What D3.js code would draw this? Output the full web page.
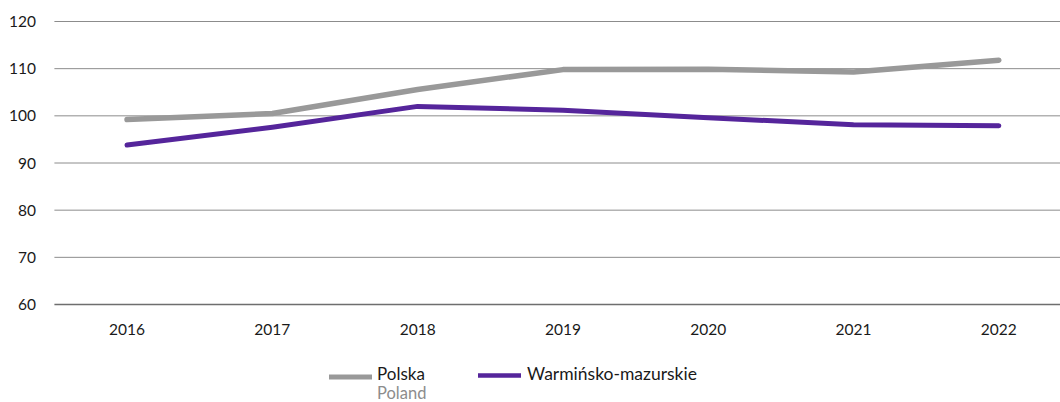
<!DOCTYPE html>
<html>
<head>
<meta charset="utf-8">
<script src="https://cdn.jsdelivr.net/npm/d3@7"></script>
<style>
  html, body { margin: 0; padding: 0; background: #fff; }
  svg { display: block; font-family: Lato, "Open Sans", sans-serif; }
</style>
</head>
<body>
<svg id="chart" width="1060" height="402"></svg>
<script>
const years = ["2016", "2017", "2018", "2019", "2020", "2021", "2022"];
const polska = [99.2, 100.5, 105.6, 109.8, 109.9, 109.3, 111.8];
const warminsko = [93.8, 97.6, 102.0, 101.2, 99.6, 98.1, 97.9];
const yTicks = [60, 70, 80, 90, 100, 110, 120];

const svg = d3.select("#chart");
const left = 54.4, bandW = 145.3;
const x = d3.scaleBand().domain(years).range([left, left + bandW * years.length]);
const y = d3.scaleLinear().domain([60, 120]).range([304.5, 21.5]);

// horizontal gridlines
svg.append("g").selectAll("line").data(yTicks.filter(d => d !== 60)).join("line")
  .attr("x1", left).attr("x2", 1060)
  .attr("y1", d => y(d)).attr("y2", d => y(d))
  .attr("stroke", "#8c8c8c").attr("stroke-width", 1);

// baseline
svg.append("line")
  .attr("x1", left).attr("x2", 1060)
  .attr("y1", y(60)).attr("y2", y(60))
  .attr("stroke", "#6e6e6e").attr("stroke-width", 1.6);

// y tick labels
svg.append("g").selectAll("text").data(yTicks).join("text")
  .attr("x", 36).attr("y", d => y(d) + 5.5)
  .attr("text-anchor", "end")
  .attr("font-size", 15.5).attr("fill", "#1a1a1a")
  .text(d => d);

// x tick labels
svg.append("g").selectAll("text").data(years).join("text")
  .attr("x", d => x(d) + x.bandwidth() / 2).attr("y", 335)
  .attr("text-anchor", "middle")
  .attr("font-size", 15.5).attr("fill", "#1a1a1a")
  .text(d => d);

const line = d3.line()
  .x((d, i) => x(years[i]) + x.bandwidth() / 2)
  .y(d => y(d));

svg.append("path").datum(polska)
  .attr("d", line).attr("fill", "none")
  .attr("stroke", "#999999").attr("stroke-width", 5.5)
  .attr("stroke-linecap", "round").attr("stroke-linejoin", "round");

svg.append("path").datum(warminsko)
  .attr("d", line).attr("fill", "none")
  .attr("stroke", "#55259b").attr("stroke-width", 5)
  .attr("stroke-linecap", "round").attr("stroke-linejoin", "round");

// legend
const lg = svg.append("g");
lg.append("line").attr("x1", 329).attr("x2", 372).attr("y1", 377).attr("y2", 377)
  .attr("stroke", "#999999").attr("stroke-width", 5);
lg.append("text").attr("x", 377).attr("y", 379.5).attr("font-size", 17).attr("fill", "#1a1a1a").text("Polska");
lg.append("text").attr("x", 377).attr("y", 398.5).attr("font-size", 16.5).attr("fill", "#8c8c8c").text("Poland");
lg.append("line").attr("x1", 478).attr("x2", 521).attr("y1", 375.5).attr("y2", 375.5)
  .attr("stroke", "#55259b").attr("stroke-width", 4.5);
lg.append("text").attr("x", 527).attr("y", 380).attr("font-size", 17.5).attr("fill", "#1a1a1a").text("Warmińsko-mazurskie");
</script>
</body>
</html>
